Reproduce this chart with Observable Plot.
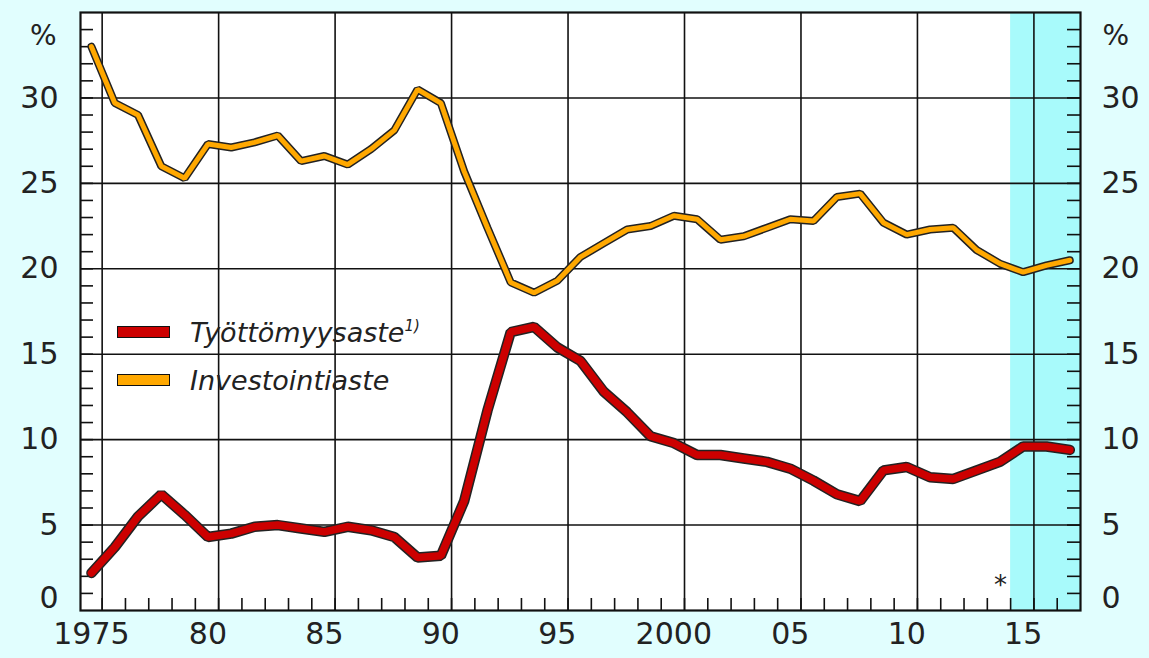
<!DOCTYPE html>
<html>
<head>
<meta charset="utf-8">
<script src="https://cdn.jsdelivr.net/npm/d3@7"></script>
<script src="https://cdn.jsdelivr.net/npm/@observablehq/plot@0.6"></script>
<style>
  html, body { margin: 0; padding: 0; background: #e1fefe; }
  #wrap { position: relative; width: 1149px; height: 658px; overflow: hidden; }
  #legend { position: absolute; left: 117px; top: 308px; font-family: "DejaVu Sans", sans-serif; font-style: italic; font-size: 27px; color: #222; }
  .row { display: flex; align-items: center; height: 48px; }
  .sw { width: 51px; height: 10px; border: 1.5px solid #111; margin-right: 20px; }
  sup { font-size: 15px; vertical-align: 11px; }
</style>
</head>
<body>
<div id="wrap"></div>
<script>
// ---- data ----
const years = d3.range(1975, 2018);
const unemployment = [2.2, 3.7, 5.5, 6.8, 5.6, 4.3, 4.5, 4.9, 5.0, 4.8, 4.6, 4.9, 4.7, 4.3, 3.1, 3.2,
  6.4, 11.7, 16.3, 16.6, 15.4, 14.6, 12.8, 11.6, 10.2, 9.8, 9.1, 9.1, 8.9, 8.7, 8.3,
  7.6, 6.8, 6.4, 8.2, 8.4, 7.8, 7.7, 8.2, 8.7, 9.6, 9.6, 9.4];
const investment = [33.0, 29.7, 29.0, 26.0, 25.3, 27.3, 27.1, 27.4, 27.8, 26.3, 26.6, 26.1, 27.0, 28.1,
  30.5, 29.7, 25.7, 22.4, 19.2, 18.6, 19.3, 20.7, 21.5, 22.3, 22.5, 23.1, 22.9, 21.7, 21.9,
  22.4, 22.9, 22.8, 24.2, 24.4, 22.7, 22.0, 22.3, 22.4, 21.1, 20.3, 19.8, 20.2, 20.5];
const seriesNames = ["Työttömyysaste", "Investointiaste"];
const xLabelYears = [1975, 1980, 1985, 1990, 1995, 2000, 2005, 2010, 2015];
const xLabels = ["1975", "80", "85", "90", "95", "2000", "05", "10", "15"];
const yLabels = [0, 5, 10, 15, 20, 25, 30];
const yMinor = d3.range(1, 35);
const xMinor = d3.range(1975, 2017);
const forecastStart = 2014;
const xDomain = [1974.07, 2017.0];
const yDomain = [0, 35];

// ---- build ----
const shift = 0.46; // data points sit at mid-year, gridlines at year boundaries
const red = "#cc0000", orange = "#ffa800";
const unempData = years.map((y, i) => ({x: y - shift, v: unemployment[i]}));
const invData = years.map((y, i) => ({x: y - shift, v: investment[i]}));
const labelData = xLabelYears.map((y, i) => ({x: y - shift, t: xLabels[i]}));
const font = "DejaVu Sans, sans-serif";
const upper = yLabels.filter(d => d > 0), zero = yLabels.filter(d => d === 0);
const axisStyle = {tickSize: 0, fontSize: 30, fill: "#222", label: null, tickFormat: d => String(d)};

const chart = Plot.plot({
  width: 1149, height: 658,
  marginLeft: 80, marginRight: 69, marginTop: 12, marginBottom: 48,
  style: {background: "transparent", fontFamily: font},
  x: {domain: xDomain, axis: null},
  y: {domain: yDomain, axis: null},
  marks: [
    Plot.frame({fill: "white", stroke: null}),
    Plot.rect([0], {x1: forecastStart, x2: xDomain[1], fill: "#a8fafb"}),
    Plot.gridX(xLabelYears, {stroke: "#111", strokeOpacity: 1, strokeWidth: 1.6}),
    Plot.gridY(upper, {stroke: "#111", strokeOpacity: 1, strokeWidth: 1.6}),
    Plot.tickX(xMinor, {x: d => d, insetTop: 598 - 12, stroke: "#111", strokeWidth: 1.6}),
    Plot.tickY(yMinor, {y: d => d, insetRight: 1000 - 13, stroke: "#111", strokeWidth: 1.6}),
    Plot.tickY(yMinor, {y: d => d, insetLeft: 1000 - 13, stroke: "#111", strokeWidth: 1.6}),
    Plot.frame({stroke: "#111", strokeWidth: 2.2}),
    Plot.line(invData, {x: "x", y: "v", stroke: "#222", strokeWidth: 8, strokeLinejoin: "miter"}),
    Plot.line(invData, {x: "x", y: "v", stroke: orange, strokeWidth: 5, strokeLinejoin: "miter"}),
    Plot.line(unempData, {x: "x", y: "v", stroke: "#222", strokeWidth: 10.5, strokeLinejoin: "miter"}),
    Plot.line(unempData, {x: "x", y: "v", stroke: red, strokeWidth: 7.5, strokeLinejoin: "miter"}),
    Plot.axisY(upper, {...axisStyle, anchor: "left", tickPadding: 22}),
    Plot.axisY(upper, {...axisStyle, anchor: "right", tickPadding: 21}),
    Plot.axisY(zero, {...axisStyle, anchor: "left", tickPadding: 22, dy: -12}),
    Plot.axisY(zero, {...axisStyle, anchor: "right", tickPadding: 21, dy: -12}),
    Plot.text(["%"], {frameAnchor: "top-left", dx: -24, dy: 13, textAnchor: "end", fontSize: 28, fill: "#222"}),
    Plot.text(["%"], {frameAnchor: "top-right", dx: 22, dy: 13, textAnchor: "start", fontSize: 28, fill: "#222"}),
    Plot.text(labelData, {x: "x", text: "t", frameAnchor: "bottom", dy: 33, fontSize: 30, fill: "#222"}),
    Plot.text(["*"], {x: forecastStart, frameAnchor: "bottom", dx: -10, dy: -17, fontSize: 26, fill: "#222"})
  ]
});
const wrap = document.getElementById("wrap");
wrap.appendChild(chart);
const legend = document.createElement("div");
legend.id = "legend";
legend.innerHTML = `<div class="row"><div class="sw" style="background:${red}"></div><span>${seriesNames[0]}<sup>1)</sup></span></div>` +
  `<div class="row"><div class="sw" style="background:${orange}"></div><span>${seriesNames[1]}</span></div>`;
wrap.appendChild(legend);
</script>
</body>
</html>
